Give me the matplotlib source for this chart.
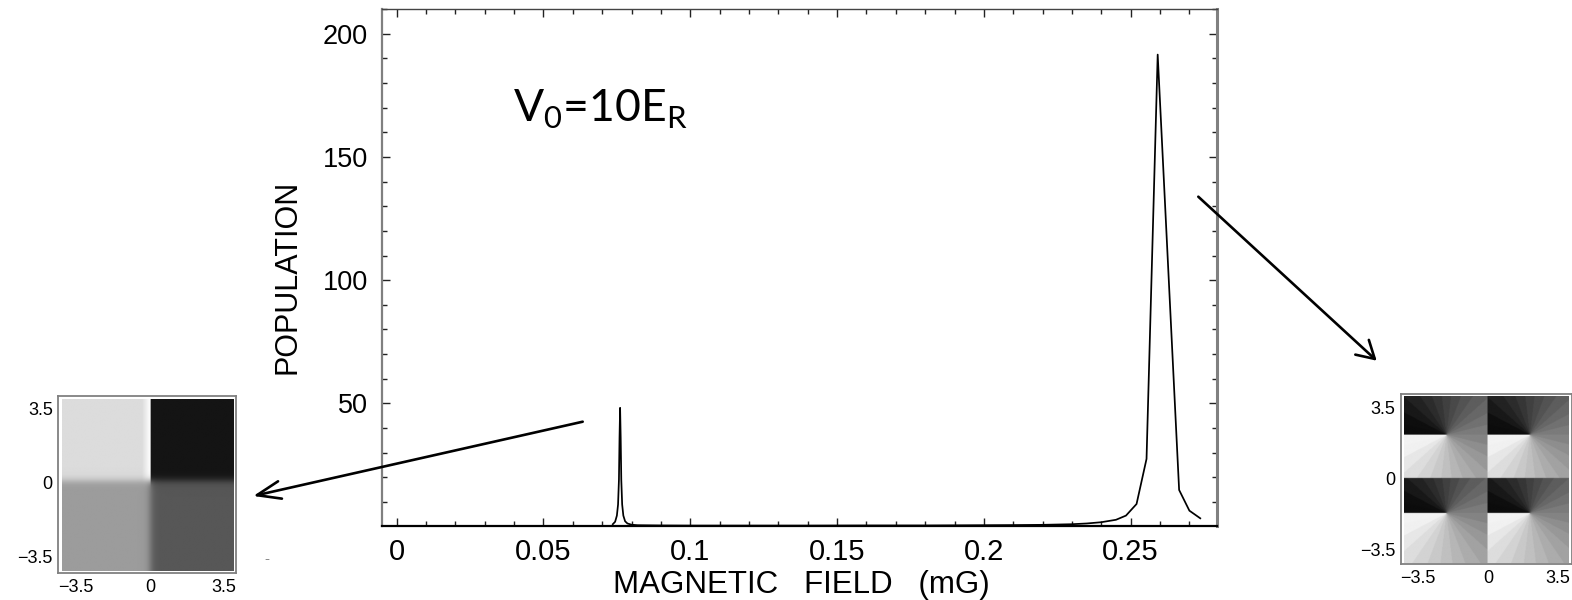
import numpy as np
import matplotlib
matplotlib.use('Agg')
import matplotlib.pyplot as plt
from matplotlib.ticker import MultipleLocator

plt.rcParams['font.family'] = ['Liberation Sans', 'DejaVu Sans']
plt.rcParams['mathtext.fontset'] = 'custom'
plt.rcParams['mathtext.rm'] = 'Lato'

# population vs magnetic field
field = [0.0736, 0.0744, 0.0750, 0.0754, 0.0757, 0.0759, 0.0761, 0.0763, 0.0765,
         0.0768, 0.0772, 0.0778, 0.0786, 0.0800, 0.0820, 0.0900, 0.1000, 0.1200,
         0.1400, 0.1600, 0.1800, 0.2000, 0.2100, 0.2200, 0.2299, 0.2350, 0.2399,
         0.2450, 0.2484, 0.2520, 0.2554, 0.2592, 0.2665, 0.2700, 0.2737]
population = [1.0, 2.0, 4.5, 9.0, 19.0, 36.0, 48.2, 36.0, 19.0,
              9.0, 4.5, 2.2, 1.3, 0.8, 0.6, 0.5, 0.45, 0.45,
              0.45, 0.5, 0.5, 0.6, 0.65, 0.75, 1.0, 1.3, 1.8,
              2.8, 4.5, 9.2, 27.5, 191.5, 14.9, 6.5, 3.4]

xticks = [0, 0.05, 0.1, 0.15, 0.2, 0.25]
xtick_labels = ['0', '0.05', '0.1', '0.15', '0.2', '0.25']
yticks = [50, 100, 150, 200]

# insets (phase maps)
inset_ticks = [-3.5, 0, 3.5]
inset_labels = ['\u22123.5', '0', '3.5']

# left inset: grey level of the four quadrants (0 = black, 1 = white)
gray_top_left = 0.86
gray_top_right = 0.08
gray_bottom_left = 0.61
gray_bottom_right = 0.34
gray_strip = 1.0

# right inset: vortex centres, one per quadrant (tl, tr, bl, br)
vortex_x = [-2.05, 2.10, -2.05, 2.10]
vortex_y = [2.14, 2.14, -1.73, -1.73]

W, H = 1572, 600
fig = plt.figure(figsize=(W / 100, H / 100), dpi=100)


def px_axes(x0, y0, x1, y1):
    # rectangle given in image pixels (top-left origin)
    return fig.add_axes([x0 / W, 1 - y1 / H, (x1 - x0) / W, (y1 - y0) / H])


# ---- main plot
ax = px_axes(382, 9, 1216.7, 525.7)
ax.plot(field, population, color='black', lw=1.25)
ax.set_xlim(-0.0050, 0.2793)
ax.set_ylim(0.4, 210)
ax.set_xticks(xticks)
ax.set_xticklabels(xtick_labels)
ax.set_yticks(yticks)
ax.xaxis.set_minor_locator(MultipleLocator(0.01))
ax.yaxis.set_minor_locator(MultipleLocator(10))
ax.tick_params(which='both', direction='in', top=True, right=True, color='#222222', width=1)
ax.tick_params(which='major', length=6)
ax.tick_params(which='minor', length=3.5)
ax.tick_params(axis='x', labelsize=21, pad=9)
ax.tick_params(axis='y', labelsize=19.5, pad=10)
ax.spines['left'].set_color('#808080')
ax.spines['left'].set_linewidth(1.6)
ax.spines['right'].set_color('#808080')
ax.spines['right'].set_linewidth(2.2)
ax.spines['bottom'].set_color('black')
ax.spines['bottom'].set_linewidth(1.6)
ax.spines['top'].set_color('#444444')
ax.spines['top'].set_linewidth(1.0)

fig.text(801 / W, 1 - 593 / H, 'MAGNETIC   FIELD   (mG)', fontsize=22.5,
         ha='center', va='baseline')
fig.text(288 / W, 1 - 276.5 / H, 'POPULATION', fontsize=22, rotation=90,
         ha='center', va='center')
fig.text(513 / W, 1 - 122 / H, r'V$_\mathrm{0}$=10E$_\mathrm{R}$', fontsize=32,
         family='Lato', ha='left', va='baseline')


def style_inset(a, xlim, ylim):
    a.set_xlim(*xlim)
    a.set_ylim(*ylim)
    a.set_xticks(inset_ticks)
    a.set_xticklabels(inset_labels)
    a.set_yticks(inset_ticks)
    a.set_yticklabels(inset_labels)
    a.tick_params(length=0, labelsize=13, pad=4)
    for s in a.spines.values():
        s.set_color('#808080')
        s.set_linewidth(1.3)


# ---- left inset
axl = px_axes(58.3, 396, 236, 573.3)
g = np.linspace(-4.16, 3.93, 260)
X, Y = np.meshgrid(g, g[::-1])
top = np.where(X < 0, gray_top_left, gray_top_right)
strip = np.clip((X + 0.4) / 0.4, 0, 1) * (X < 0)
top = top + (gray_strip - gray_top_left) * strip
bottom = gray_bottom_left + (gray_bottom_right - gray_bottom_left) / (1 + np.exp(-X / 0.1))
wgt = 1 / (1 + np.exp(-(Y - 0.1) / 0.1))
img_left = wgt * top + (1 - wgt) * bottom
axl.imshow(img_left, cmap='gray', vmin=0, vmax=1, extent=(-4.16, 3.93, -4.15, 3.93),
           interpolation='bilinear', aspect='auto')
style_inset(axl, (-4.32, 4.06), (-4.27, 4.09))
fig.text(266.5 / W, 1 - 559 / H, '-', color='#888888', fontsize=11, ha='center', va='center')

# ---- right inset
axr = px_axes(1401, 394, 1571.5, 564.3)
gx = np.linspace(-4.15, 4.03, 320)
gy = np.linspace(4.04, -4.18, 320)
X, Y = np.meshgrid(gx, gy)
cell = (Y < 0).astype(int) * 2 + (X >= 0).astype(int)
cx = np.array(vortex_x)[cell]
cy = np.array(vortex_y)[cell]
theta = np.arctan2(Y - cy, X - cx)
phase_gray = 1 - (theta + np.pi) / (2 * np.pi)
phase_gray = np.floor(phase_gray * 26) / 26 + 1 / 52
phase_gray = np.clip(phase_gray, 0.05, 0.95)
axr.imshow(phase_gray, cmap='gray', vmin=0, vmax=1, extent=(-4.15, 4.03, -4.18, 4.04),
           interpolation='bilinear', aspect='auto')
style_inset(axr, (-4.32, 4.16), (-4.25, 4.18))

# ---- arrows (figure pixels, origin bottom-left)
ax.annotate('', xy=(253.3, H - 496), xycoords='figure pixels',
            xytext=(582.7, H - 421.7), textcoords='figure pixels',
            arrowprops=dict(arrowstyle='->,head_length=0.85,head_width=0.32',
                            mutation_scale=20, lw=1.9, color='black',
                            shrinkA=0, shrinkB=0))
ax.annotate('', xy=(1376.7, H - 360.7), xycoords='figure pixels',
            xytext=(1198.3, H - 196.7), textcoords='figure pixels',
            arrowprops=dict(arrowstyle='->,head_length=0.62,head_width=0.36',
                            mutation_scale=20, lw=1.9, color='black',
                            shrinkA=0, shrinkB=0))

fig.savefig('out.png', dpi=100)
